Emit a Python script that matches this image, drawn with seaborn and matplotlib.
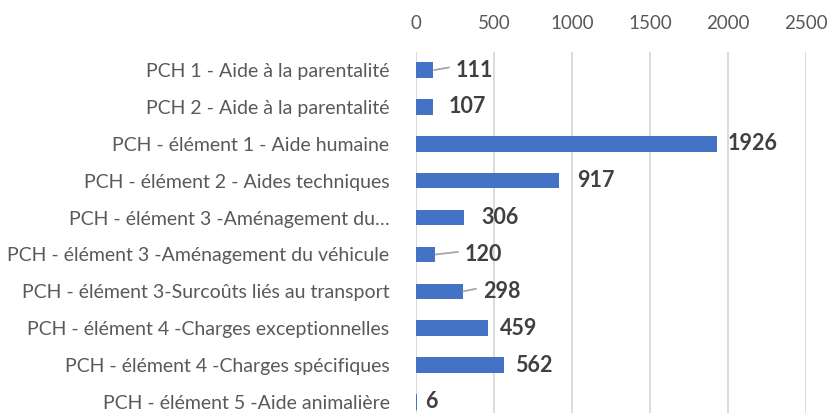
import matplotlib
matplotlib.use('Agg')
import matplotlib.pyplot as plt
import seaborn as sns
import pandas as pd

# Chart data
categories = [
    'PCH 1 - Aide à la parentalité',
    'PCH 2 - Aide à la parentalité',
    'PCH - élément 1 - Aide humaine',
    'PCH - élément 2 - Aides techniques',
    'PCH - élément 3 -Aménagement du…',
    'PCH - élément 3 -Aménagement du véhicule',
    'PCH - élément 3-Surcoûts liés au transport',
    'PCH - élément 4 -Charges exceptionnelles',
    'PCH - élément 4 -Charges spécifiques',
    'PCH - élément 5 -Aide animalière',
]
values = [111, 107, 1926, 917, 306, 120, 298, 459, 562, 6]
x_ticks = [0, 500, 1000, 1500, 2000, 2500]

df = pd.DataFrame({'categorie': categories, 'valeur': values})

# label nudges (in data units) and which labels get a leader line
label_shift = [145, 105, 68, 115, 111, 194, 131, 79, 73, 52]
has_leader = [True, False, False, False, False, True, True, False, False, False]

sns.set_theme(style='white')
plt.rcParams['font.family'] = ['Lato', 'DejaVu Sans']

fig = plt.figure(figsize=(8.32, 4.13), dpi=100)
ax = fig.add_axes([0.5, -0.018, 0.469, 0.893])

sns.barplot(data=df, x='valeur', y='categorie', color='#4472C4',
            width=0.42, saturation=1, ax=ax, linewidth=0)

for i, (v, s, lead) in enumerate(zip(values, label_shift, has_leader)):
    ax.text(v + s, i, str(v), va='center', ha='left', fontsize=15.5,
            fontweight='bold', color='#404040')
    if lead:
        ax.plot([v + 5, v + s - 45], [i, i - 0.07], color='#a6a6a6', lw=1.3)

ax.set_xlim(0, 2500)
ax.set_ylim(9.5, -0.5)
ax.set_xticks(x_ticks)
ax.xaxis.tick_top()
ax.grid(axis='x', color='#d9d9d9', lw=1.3)
ax.set_axisbelow(True)
ax.axvline(0, color='#d9d9d9', lw=1.3, zorder=0)
ax.tick_params(axis='x', length=0, pad=14, labelsize=13.5, labelcolor='#595959')
ax.tick_params(axis='y', length=0, pad=19, labelsize=14, labelcolor='#595959')
ax.set_xlabel('')
ax.set_ylabel('')
for sp in ax.spines.values():
    sp.set_visible(False)

fig.savefig('out.png', dpi=100)
